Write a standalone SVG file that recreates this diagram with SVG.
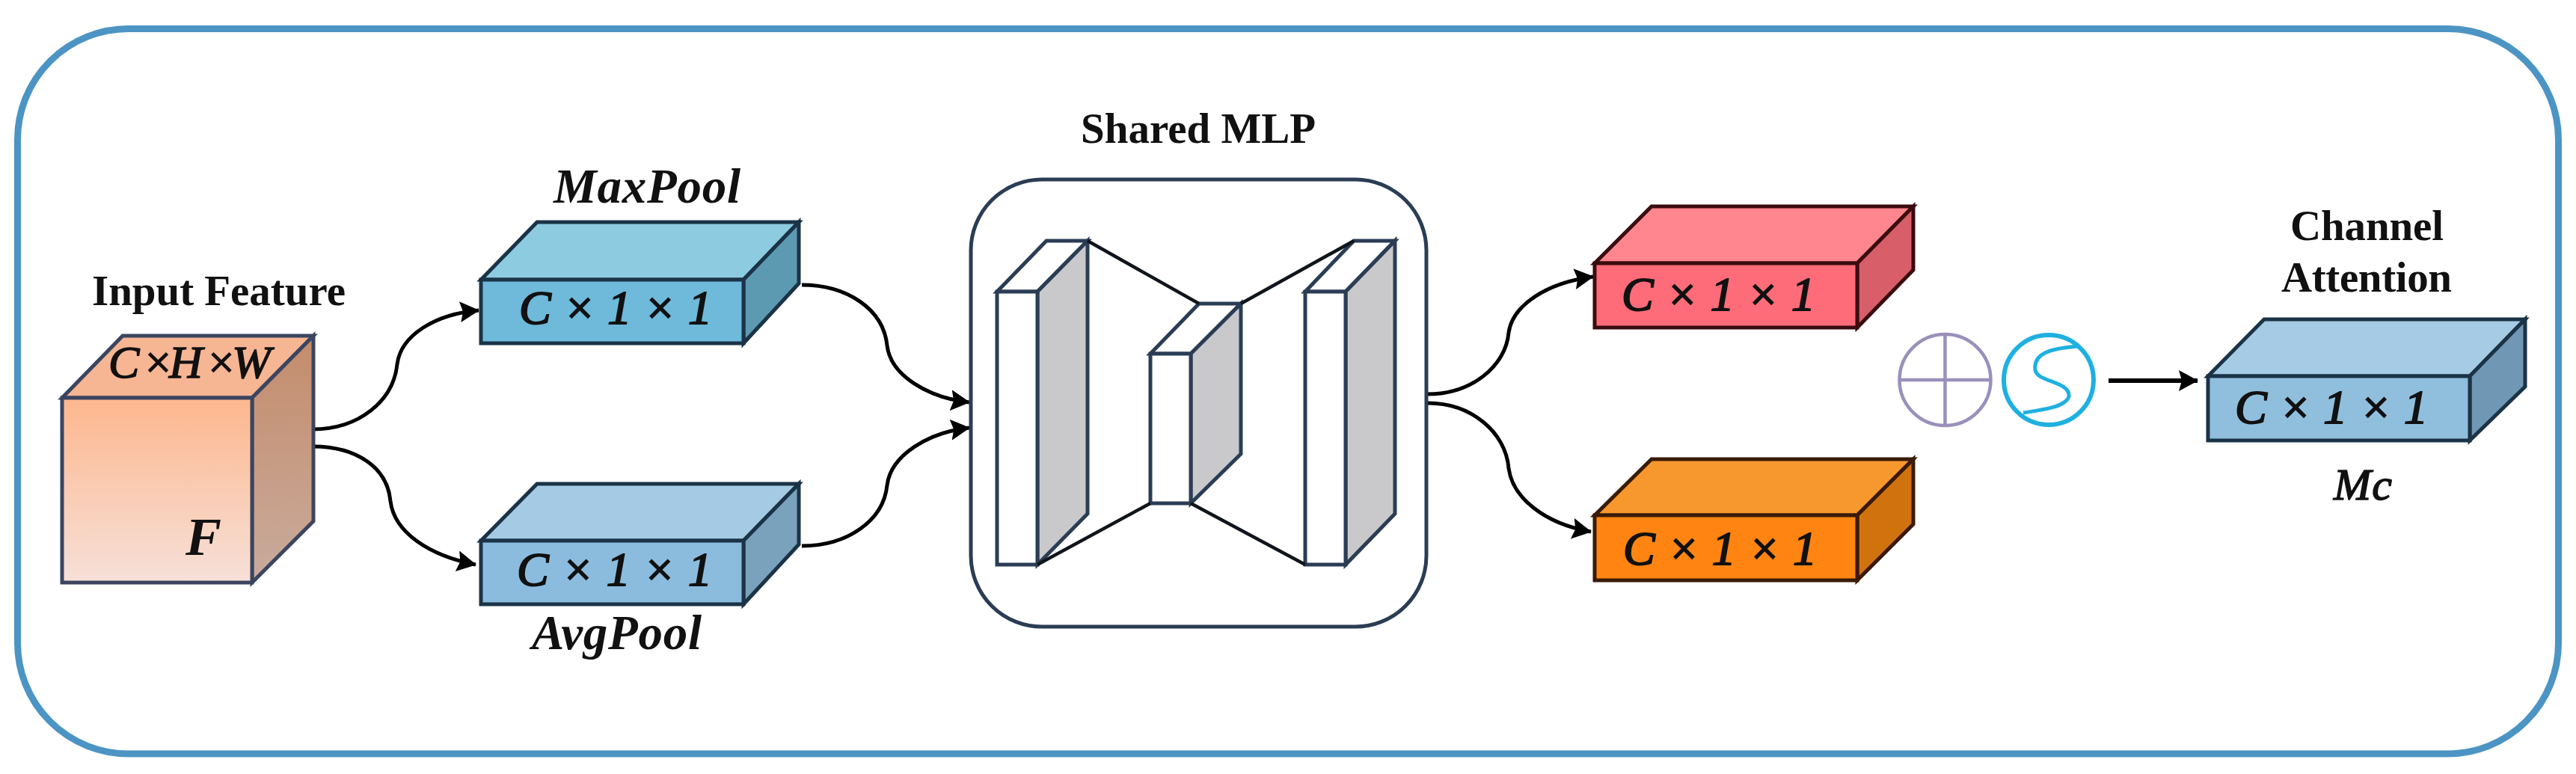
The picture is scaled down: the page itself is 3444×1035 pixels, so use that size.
<svg xmlns="http://www.w3.org/2000/svg" width="3444" height="1035" viewBox="0 0 3444 1035">
<style>
text{font-family:"Liberation Serif","Times New Roman",serif;fill:#111}
.b{font-weight:bold}
.bi{font-weight:bold;font-style:italic}
.i{font-style:italic;stroke:#111;stroke-width:1.6}
.e{stroke-width:5;stroke-linejoin:miter}
.blue{stroke:#1b3347}
.cube{stroke:#3b4560}
.red{stroke:#3a0c10}
.org{stroke:#3a1a08}
.mlp{stroke:#2b3d55;stroke-width:5;fill:#fff;stroke-linejoin:miter}
.gr{fill:#c9c9cc}
.link{stroke:#10151c;stroke-width:4.5;fill:none}
.c{fill:none;stroke:#000;stroke-width:5;marker-end:url(#ah)}
.dim{font-size:64px;font-style:italic;stroke:#111;stroke-width:2}
</style>
<defs>
<marker id="ah" markerUnits="userSpaceOnUse" markerWidth="28" markerHeight="30" refX="25" refY="14" orient="auto"><path d="M0,0L26,14L0,28L4,14Z" fill="#000"/></marker>
<linearGradient id="ff" x1="0" y1="0" x2="0" y2="1"><stop offset="0" stop-color="#fdb78e"/><stop offset="1" stop-color="#f6e0d8"/></linearGradient>
<linearGradient id="fs" x1="0" y1="0" x2="0" y2="1"><stop offset="0" stop-color="#c48c6c"/><stop offset="1" stop-color="#c9ab9c"/></linearGradient>
</defs>
<rect width="3444" height="1035" fill="#fff"/>
<rect id="frame" x="23.5" y="38.5" width="3397" height="969.5" rx="148" ry="148" fill="#fff" stroke="#4c94c4" stroke-width="9"/>

<g id="connectors">
<path class="c" d="M418,574C480,574 526,536 531,487C536,448 582,420 640,415"/>
<path class="c" d="M418,597C478,597 518,626 522,670C527,712 574,743 636,755"/>
<path class="c" d="M1072,381C1132,381 1181,413 1186,462C1191,503 1242,532 1296,538"/>
<path class="c" d="M1072,730C1132,730 1181,697 1186,649C1191,608 1242,578 1296,572"/>
<path class="c" d="M1909,527C1967,527 2013,490 2017,445C2022,408 2068,378 2130,370"/>
<path class="c" d="M1909,539C1967,539 2013,578 2017,626C2022,665 2064,700 2127,711"/>
<path class="c" style="stroke-width:6" d="M2819,509L2938,509"/>
</g>

<g id="input-feature">
<polygon class="e cube" points="83,532 164,449 419,449 337,532" fill="#f6b593"/>
<polygon class="e cube" points="337,532 419,449 419,697 337,779" fill="url(#fs)"/>
<rect class="e cube" x="83" y="532" width="254" height="247" fill="url(#ff)"/>
<text class="b" x="123" y="408" font-size="57" textLength="339">Input Feature</text>
<text class="i" x="145" y="505" font-size="62" textLength="217">C ×H ×W</text>
<text class="bi" x="248" y="742" font-size="72">F</text>
</g>

<g id="maxpool">
<polygon class="e blue" points="643,374 718,297 1068,297 994,374" fill="#8dcbe0"/>
<polygon class="e blue" points="994,374 1068,297 1068,379 994,459" fill="#5c9ab2"/>
<rect class="e blue" x="643" y="374" width="351" height="85" fill="#6fb9da"/>
<text class="dim" x="694" y="433" textLength="258">C × 1 × 1</text>
<text class="bi" x="740" y="271" font-size="65" textLength="250">MaxPool</text>
</g>

<g id="avgpool">
<polygon class="e blue" points="643,723 718,647 1068,647 994,723" fill="#a5cbe4"/>
<polygon class="e blue" points="994,723 1068,647 1068,728 994,808" fill="#7aa2bd"/>
<rect class="e blue" x="643" y="723" width="351" height="85" fill="#8cbcdd"/>
<text class="dim" x="691" y="783" textLength="261">C × 1 × 1</text>
<text class="bi" x="711" y="868" font-size="65" textLength="227">AvgPool</text>
</g>

<g id="shared-mlp">
<text class="b" x="1445" y="191" font-size="57">Shared MLP</text>
<rect x="1298" y="240" width="609" height="598" rx="95" ry="95" fill="#fff" stroke="#2b3d55" stroke-width="5"/>
<g id="mlp-block-left">
<polygon class="mlp" points="1333,390 1399,322 1454,322 1387,390"/>
<polygon class="mlp gr" points="1387,390 1454,322 1454,687 1387,755"/>
<rect class="mlp" x="1333" y="390" width="54" height="365"/>
</g>
<g id="mlp-block-mid">
<polygon class="mlp" points="1538,473 1603,406 1659,406 1592,473"/>
<polygon class="mlp gr" points="1592,473 1659,406 1659,607 1592,673"/>
<rect class="mlp" x="1538" y="473" width="54" height="200"/>
</g>
<g id="mlp-block-right">
<polygon class="mlp" points="1745,390 1810,322 1865,322 1799,390"/>
<polygon class="mlp gr" points="1799,390 1865,322 1865,687 1799,755"/>
<rect class="mlp" x="1745" y="390" width="54" height="365"/>
</g>
<path class="link" d="M1454,322L1603,406M1810,322L1659,406M1387,755L1538,673M1592,673L1745,755"/>
</g>

<g id="red-block">
<polygon class="e red" points="2132,352 2208,276 2558,276 2483,352" fill="#ff858f"/>
<polygon class="e red" points="2483,352 2558,276 2558,361 2483,438" fill="#d85f69"/>
<rect class="e red" x="2132" y="352" width="351" height="86" fill="#ff6c79"/>
<text class="dim" x="2168" y="415" textLength="259">C × 1 × 1</text>
</g>

<g id="orange-block">
<polygon class="e org" points="2132,689 2208,614 2558,614 2483,689" fill="#f7982f"/>
<polygon class="e org" points="2483,689 2558,614 2558,701 2483,776" fill="#d0730f"/>
<rect class="e org" x="2132" y="689" width="351" height="87" fill="#ff8412"/>
<text class="dim" x="2170" y="755" textLength="259">C × 1 × 1</text>
</g>

<g id="add-op">
<circle cx="2600.5" cy="508" r="61" fill="none" stroke="#9a90bb" stroke-width="4.5"/>
<path d="M2600.5,447V569M2539.5,508H2661.5" fill="none" stroke="#9a90bb" stroke-width="4.5"/>
</g>

<g id="sigmoid-op">
<circle cx="2739" cy="508" r="60" fill="none" stroke="#1fb0e0" stroke-width="6"/>
<path d="M2778,463C2742,466 2718,472 2721,495C2724,511 2768,510 2766,530C2762,544 2732,548 2705,552" fill="none" stroke="#1fb0e0" stroke-width="5"/>
</g>

<g id="channel-attention">
<text class="b" x="3062" y="321" font-size="57" textLength="205">Channel</text>
<text class="b" x="3050" y="390" font-size="57" textLength="228">Attention</text>
<polygon class="e blue" points="2952,503 3027,427 3376,427 3302,503" fill="#a5cbe5"/>
<polygon class="e blue" points="3302,503 3376,427 3376,517 3302,589" fill="#7097b3"/>
<rect class="e blue" x="2952" y="503" width="350" height="86" fill="#90bfde"/>
<text class="dim" x="2988" y="566" textLength="258">C × 1 × 1</text>
<text class="i" x="3120" y="668" font-size="60" textLength="78">Mc</text>
</g>
</svg>
